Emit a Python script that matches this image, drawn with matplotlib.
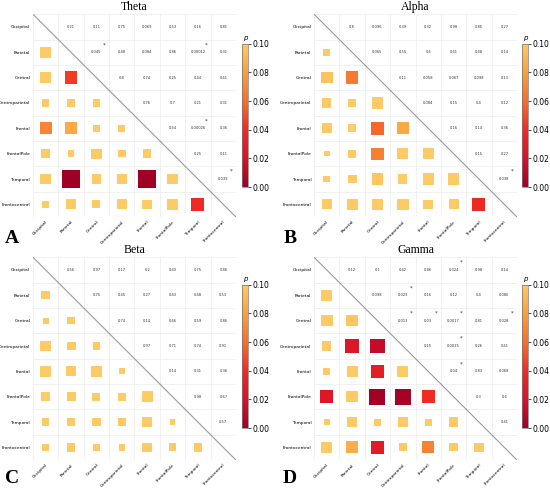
import numpy as np
import matplotlib
matplotlib.use('Agg')
import matplotlib.pyplot as plt
from matplotlib.colors import LinearSegmentedColormap, Normalize
from matplotlib.cm import ScalarMappable
from matplotlib.patches import Rectangle

regions = ['Occipital', 'Parietal', 'Central', 'Centroparietal',
           'Frontal', 'FrontalPole', 'Temporal', 'Frontocentral']

# upper triangle p-values, row by row (row i, columns i+1 .. end)
theta_p = [
    [0.21, 0.11, 0.75, 0.069, 0.53, 0.16, 0.81],
    [0.045, 0.48, 0.084, 0.86, 0.00012, 0.31],
    [0.8, 0.74, 0.25, 0.44, 0.61],
    [0.76, 0.7, 0.21, 0.31],
    [0.54, 0.00026, 0.36],
    [0.25, 0.11],
    [0.039],
]
alpha_p = [
    [0.8, 0.096, 0.39, 0.32, 0.98, 0.85, 0.27],
    [0.065, 0.55, 0.6, 0.61, 0.48, 0.14],
    [0.11, 0.058, 0.067, 0.098, 0.13],
    [0.084, 0.15, 0.4, 0.12],
    [0.16, 0.14, 0.36],
    [0.15, 0.27],
    [0.038],
]
beta_p = [
    [0.56, 0.97, 0.17, 0.2, 0.43, 0.75, 0.86],
    [0.75, 0.45, 0.27, 0.43, 0.48, 0.53],
    [0.74, 0.14, 0.66, 0.59, 0.86],
    [0.97, 0.71, 0.74, 0.91],
    [0.14, 0.31, 0.36],
    [0.98, 0.67],
    [0.57],
]
gamma_p = [
    [0.12, 0.1, 0.42, 0.86, 0.024, 0.98, 0.14],
    [0.098, 0.023, 0.16, 0.12, 0.4, 0.086],
    [0.013, 0.03, 0.0017, 0.81, 0.028],
    [0.15, 0.0025, 0.26, 0.61],
    [0.04, 0.83, 0.068],
    [0.3, 0.6],
    [0.41],
]

bands = ['Theta', 'Alpha', 'Beta', 'Gamma']
letters = ['A', 'B', 'C', 'D']
band_data = [theta_p, alpha_p, beta_p, gamma_p]

cmap = LinearSegmentedColormap.from_list('pmap', [
    (0.0, '#9e0026'), (0.2, '#d7132a'), (0.4, '#ef2b22'),
    (0.6, '#f46f2c'), (0.8, '#fa9f3f'), (1.0, '#fdca65')])
norm = Normalize(vmin=0, vmax=0.1)


def full_matrix(upper):
    n = len(regions)
    m = np.full((n, n), np.nan)
    for i, row in enumerate(upper):
        for k, v in enumerate(row):
            j = i + 1 + k
            m[i, j] = v
            m[j, i] = v
    return m


def draw_panel(ax, cax, upper, title):
    n = len(regions)
    m = full_matrix(upper)
    ax.set_xlim(-0.5, n - 0.5)
    ax.set_ylim(n - 0.5, -0.5)
    for b in np.arange(-0.5, n, 1.0):
        ax.axhline(b, color='#ececec', lw=0.5, zorder=0)
        ax.axvline(b, color='#ececec', lw=0.5, zorder=0)
    for i in range(n):
        for j in range(n):
            p = m[i, j]
            if np.isnan(p):
                continue
            if i > j:
                s = 0.2 + 0.26 * np.sqrt(-np.log10(p))
                ax.add_patch(Rectangle((j - s / 2, i - s / 2), s, s,
                                       facecolor=cmap(norm(min(p, 0.1))),
                                       edgecolor='none', zorder=2))
            else:
                ax.text(j, i, f"{p:.2g}", ha='center', va='center',
                        fontsize=2.6, color='#333333')
                if p < 0.05:
                    ax.text(j + 0.32, i - 0.3, '*', ha='center', va='center',
                            fontsize=4, color='#333333')
    ax.plot([-0.5, n - 0.5], [-0.5, n - 0.5], color='#9a9a9a', lw=0.8,
            zorder=3)
    ax.set_xticks(range(n))
    ax.set_yticks(range(n))
    ax.set_xticklabels(regions, rotation=45, ha='right',
                       rotation_mode='anchor', fontsize=3.2)
    ax.set_yticklabels(regions, fontsize=3.2)
    ax.tick_params(length=0, pad=2)
    for sp in ax.spines.values():
        sp.set_visible(False)
    ax.set_title(title, fontsize=8.5, family='Liberation Serif', pad=3)

    cb = plt.colorbar(ScalarMappable(norm=norm, cmap=cmap), cax=cax)
    cb.set_ticks([0, 0.02, 0.04, 0.06, 0.08, 0.10])
    cb.ax.set_yticklabels(['0.00', '0.02', '0.04', '0.06', '0.08', '0.10'])
    cb.ax.tick_params(labelsize=5.5, length=2, width=0.5, pad=1)
    cb.outline.set_linewidth(0.5)
    cb.outline.set_edgecolor('#777777')
    cax.set_title('p', fontsize=5, style='italic', pad=3)


fig = plt.figure(figsize=(5.5, 4.91), dpi=100)

lefts = [0.06, 0.571]
bottoms = [0.558, 0.063]
cb_lefts = [0.44, 0.949]
cb_bottoms = [0.619, 0.128]

for k in range(4):
    r, c = divmod(k, 2)
    ax = fig.add_axes([lefts[c], bottoms[r], 0.369, 0.413])
    cax = fig.add_axes([cb_lefts[c], cb_bottoms[r], 0.011, 0.292])
    draw_panel(ax, cax, band_data[k], bands[k])
    fig.text(0.022 + c * 0.505, 0.515 - r * 0.49, letters[k],
             fontsize=14, fontweight='bold', family='Liberation Serif',
             ha='center', va='center')

fig.savefig('out.png', dpi=100)
